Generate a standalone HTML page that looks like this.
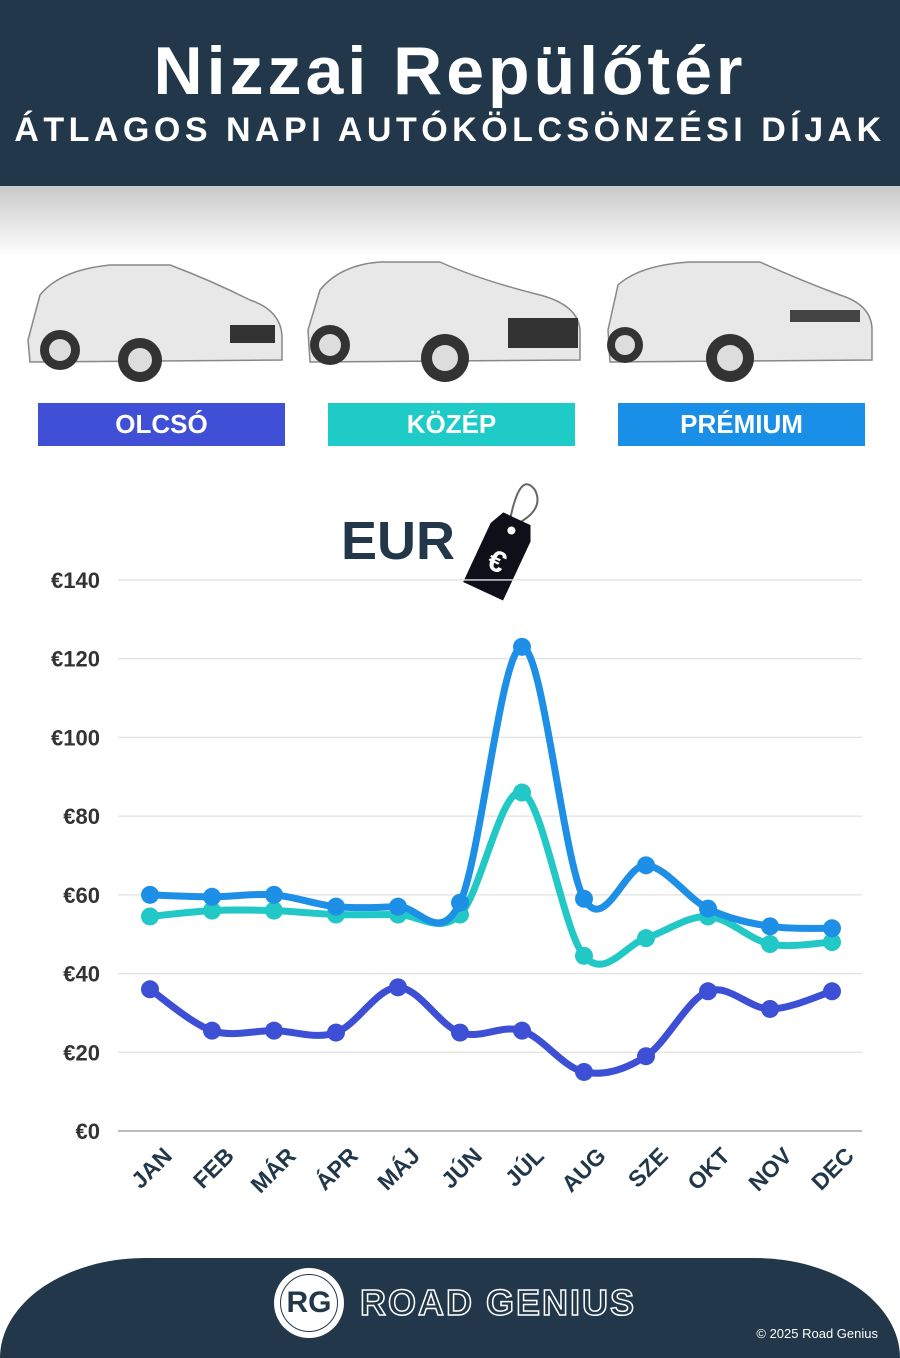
<!DOCTYPE html>
<html><head><meta charset="utf-8"><style>
*{margin:0;padding:0;box-sizing:border-box}
body{width:900px;height:1350px;background:#fff;position:relative;overflow:hidden;font-family:"Liberation Sans","DejaVu Sans",sans-serif}
.hdr{position:absolute;left:0;top:0;width:900px;height:186px;background:#22384a;color:#fff;text-align:center}
.t1{position:absolute;top:32px;width:100%;font-size:68px;font-weight:bold;letter-spacing:4px}
.t2{position:absolute;top:111px;width:100%;font-size:34px;font-weight:bold;letter-spacing:4.5px}
.fade{position:absolute;top:186px;left:0;width:900px;height:70px;background:linear-gradient(#c9c9c9,#fff)}
.lab{position:absolute;top:403px;height:43px;width:247px;color:#fff;font-weight:bold;font-size:26px;text-align:center;line-height:43px}
.ft{position:absolute;left:0;top:1258px;width:900px;height:100px;background:#22384a;border-radius:160px 160px 0 0/110px 110px 0 0}
</style></head><body>
<div class="hdr"><div class="t1">Nizzai Repülőtér</div><div class="t2">ÁTLAGOS NAPI AUTÓKÖLCSÖNZÉSI DÍJAK</div></div>
<div class="fade"></div>
<svg style="position:absolute;left:0;top:250px" width="900" height="150">
<g fill="#e8e8e8" stroke="#888" stroke-width="1.5">
<path d="M28 90 L40 45 Q60 20 110 15 L170 15 Q210 30 250 50 Q280 60 282 85 L282 110 L30 112 Z"/>
<path d="M308 80 L320 40 Q340 15 380 12 L440 12 Q480 30 540 45 Q578 55 580 80 L580 110 L310 112 Z"/>
<path d="M608 80 L618 35 Q640 15 690 12 L760 12 Q800 30 840 45 Q872 55 872 80 L872 110 L610 112 Z"/>
</g>
<g fill="#333"><circle cx="60" cy="100" r="20"/><circle cx="140" cy="110" r="22"/><circle cx="330" cy="95" r="20"/><circle cx="445" cy="108" r="24"/><circle cx="625" cy="95" r="18"/><circle cx="730" cy="108" r="24"/></g>
<g fill="#ddd"><circle cx="60" cy="100" r="11"/><circle cx="140" cy="110" r="12"/><circle cx="330" cy="95" r="11"/><circle cx="445" cy="108" r="13"/><circle cx="625" cy="95" r="10"/><circle cx="730" cy="108" r="13"/></g>
<rect x="230" y="75" width="45" height="18" fill="#333"/><rect x="508" y="68" width="70" height="30" fill="#333"/><rect x="790" y="60" width="70" height="12" fill="#444"/>
</svg>
<div class="lab" style="left:38px;background:#3f4fd6">OLCSÓ</div>
<div class="lab" style="left:328px;background:#1ecbc7">KÖZÉP</div>
<div class="lab" style="left:618px;background:#1a8fe8">PRÉMIUM</div>
<div style="position:absolute;left:341px;top:510px;font-size:54px;font-weight:bold;color:#22384a">EUR</div>
<svg style="position:absolute;left:450px;top:470px" width="100" height="140">
<path d="M60 50 Q70 0 85 20 Q95 40 65 55" fill="none" stroke="#666" stroke-width="2"/>
<g transform="rotate(25 50 85)"><path d="M35 45 L65 45 L72 60 L72 125 L28 125 L28 60 Z" fill="#0f0f1a"/><circle cx="50" cy="58" r="4" fill="#fff"/><text x="50" y="102" font-size="30" font-weight="bold" fill="#fff" text-anchor="middle">€</text></g>
</svg>
<svg id="ch" style="position:absolute;left:0;top:560px" width="900" height="660"></svg>
<div class="ft"></div>
<div style="position:absolute;left:274px;top:1268px;width:70px;height:70px;border-radius:50%;background:#fff;"></div>
<div style="position:absolute;left:280px;top:1274px;width:58px;height:58px;border-radius:50%;border:1.5px solid #22384a;color:#22384a;font-size:30px;font-weight:bold;text-align:center;line-height:56px">RG</div>
<div style="position:absolute;left:360px;top:1282px;font-size:36px;color:#22384a;-webkit-text-stroke:1.5px #fff;letter-spacing:2px;font-weight:bold">ROAD GENIUS</div>
<div style="position:absolute;right:22px;top:1326px;font-size:13px;color:#fff">© 2025 Road Genius</div>
<script>
const s=document.getElementById('ch'),T=560;
const Y=v=>1131-3.936*v-T,X=i=>150+62*i;
let h='';
for(let v=0;v<=140;v+=20){h+=`<line x1="118" x2="862" y1="${Y(v)}" y2="${Y(v)}" stroke="${v?'#e2e2e2':'#bbb'}" stroke-width="${v?1.3:2}"/>`;
h+=`<text x="100" y="${Y(v)+8}" font-size="22" font-weight="bold" fill="#333" text-anchor="end">€${v}</text>`;}
const m=['JAN','FEB','MÁR','ÁPR','MÁJ','JÚN','JÚL','AUG','SZE','OKT','NOV','DEC'];
m.forEach((t,i)=>h+=`<text transform="translate(${X(i)+12},${1146-T}) rotate(-45)" font-size="23" font-weight="bold" fill="#22384a" text-anchor="end" dy="16">${t}</text>`);
const D=[['#1e8fe6',[60,59.5,60,57,57,58,123,59,67.5,56.5,52,51.5]],['#22c8c6',[54.5,56,56,55,55,55,86,44.5,49,54.5,47.5,48]],['#3d4fd4',[36,25.5,25.5,25,36.5,25,25.5,15,19,35.5,31,35.5]]];
[D[1],D[0],D[2]].forEach(([c,d])=>{const p=d.map((v,i)=>[X(i),Y(v)]);let path=`M${p[0]}`;
for(let i=0;i<p.length-1;i++){const a=p[i-1]||p[i],b=p[i],e=p[i+1],f=p[i+2]||e;
path+=`C${b[0]+(e[0]-a[0])/6},${b[1]+(e[1]-a[1])/6} ${e[0]-(f[0]-b[0])/6},${e[1]-(f[1]-b[1])/6} ${e[0]},${e[1]}`;}
h+=`<path d="${path}" fill="none" stroke="${c}" stroke-width="7" stroke-linejoin="round"/>`;
p.forEach(q=>h+=`<circle cx="${q[0]}" cy="${q[1]}" r="9" fill="${c}"/>`);});
s.innerHTML=h;
</script>
</body></html>
